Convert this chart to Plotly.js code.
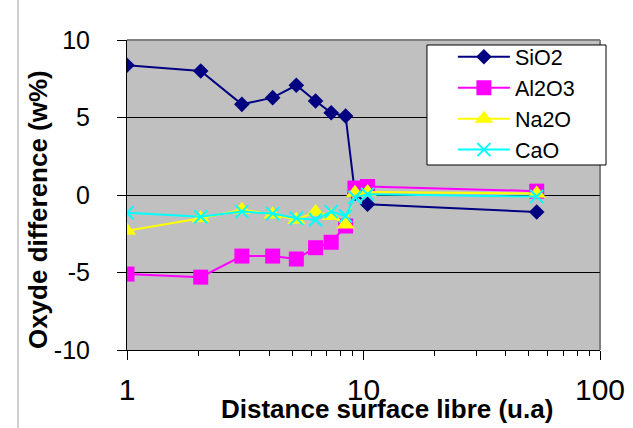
<!DOCTYPE html>
<html>
<head>
<meta charset="utf-8">
<script src="https://cdn.plot.ly/plotly-3.0.1.min.js"></script>
<style>
  html, body { margin: 0; padding: 0; background: #ffffff; }
  #chart { width: 633px; height: 428px; }
</style>
</head>
<body>
<div id="chart"></div>
<script>
// Distance values (log axis) shared by all series
const distance = [1, 2.05, 3.06, 4.13, 5.2, 6.27, 7.3, 8.4, 9.2, 10.4, 54];
const sio2  = [8.37, 8.0, 5.85, 6.28, 7.08, 6.06, 5.31, 5.1, 0.1, -0.6, -1.1];
const al2o3 = [-5.1, -5.3, -3.94, -3.94, -4.13, -3.4, -3.05, -2.0, 0.45, 0.55, 0.25];
const na2o  = [-2.3, -1.5, -0.95, -1.25, -1.6, -1.1, -1.35, -1.9, 0.15, 0.2, 0.1];
const cao   = [-1.15, -1.4, -1.07, -1.2, -1.5, -1.6, -1.07, -1.35, -0.15, 0.05, -0.1];
const seriesNames = ["SiO2", "Al2O3", "Na2O", "CaO"];
const xTickVals = [1, 10, 100];
const xTickText = ["1", "10", "100"];
const yTickVals = [-10, -5, 0, 5, 10];
const yTickText = ["-10", "-5", "0", "5", "10"];
const xTitle = "Distance surface libre (u.a)";
const yTitle = "Oxyde difference (w%)";

const FONT = "Liberation Sans, Arial, sans-serif";

const traces = [
  { x: distance, y: sio2, name: seriesNames[0], type: "scatter", mode: "lines+markers",
    line: { color: "#000080", width: 2 },
    marker: { symbol: "diamond", size: 12, color: "#000080" } },
  { x: distance, y: al2o3, name: seriesNames[1], type: "scatter", mode: "lines+markers",
    line: { color: "#FF00FF", width: 2 },
    marker: { symbol: "square", size: 15, color: "#FF00FF" } },
  { x: distance, y: na2o, name: seriesNames[2], type: "scatter", mode: "lines+markers",
    line: { color: "#FFFF00", width: 2 },
    marker: { symbol: "triangle-up", size: 16, color: "#FFFF00" } },
  { x: distance, y: cao, name: seriesNames[3], type: "scatter", mode: "lines+markers",
    line: { color: "#00FFFF", width: 2 },
    marker: { symbol: "x-thin", size: 13, color: "#00FFFF", line: { color: "#00FFFF", width: 2 } } }
];

const layout = {
  width: 633, height: 428,
  margin: { l: 127, r: 33, t: 40, b: 78, pad: 0 },
  paper_bgcolor: "#ffffff",
  plot_bgcolor: "#C0C0C0",
  font: { family: FONT, color: "#000000" },
  showlegend: true,
  legend: {
    x: 0.689, y: 1.012, xanchor: "left", yanchor: "top",
    bgcolor: "rgba(0,0,0,0)", borderwidth: 0,
    font: { family: FONT, size: 21.5, color: "#000000" },
    itemwidth: 52, tracegroupgap: 0
  },
  xaxis: {
    type: "log", range: [0, 2],
    tickvals: xTickVals, ticktext: xTickText,
    ticks: "outside", ticklen: 9, tickwidth: 1, tickcolor: "#000000",
    minor: { ticks: "outside", ticklen: 5, tickwidth: 1, tickcolor: "#000000", dtick: "D1", showgrid: false },
    showline: true, linecolor: "#000000", linewidth: 1,
    showgrid: false, zeroline: false,
    tickfont: { family: FONT, size: 30, color: "#000000" },
    ticklabelstandoff: 4
  },
  yaxis: {
    range: [-10, 10], tickvals: yTickVals, ticktext: yTickText,
    ticks: "outside", ticklen: 9, tickwidth: 1, tickcolor: "#000000",
    showline: true, linecolor: "#000000", linewidth: 1,
    showgrid: true, gridcolor: "#000000", gridwidth: 1, zeroline: false,
    tickfont: { family: FONT, size: 25, color: "#000000" },
    ticklabelstandoff: 22
  },
  shapes: [
    { type: "line", xref: "paper", yref: "paper", x0: 0, x1: 1, y0: 1, y1: 1,
      line: { color: "#808080", width: 2 }, layer: "between" },
    { type: "line", xref: "paper", yref: "paper", x0: 1, x1: 1, y0: 0, y1: 1,
      line: { color: "#808080", width: 2 }, layer: "between" },
    { type: "rect", xref: "paper", yref: "paper", x0: 0.6342, x1: 1.0127, y0: 0.5968, y1: 0.9839,
      fillcolor: "#ffffff", line: { color: "#000000", width: 1 }, layer: "above" },
    { type: "line", xref: "paper", yref: "paper", x0: -0.2304, x1: -0.2304, y0: -0.26, y1: 1.13,
      line: { color: "#A0A0A0", width: 1 }, layer: "above" }
  ],
  annotations: [
    { text: "<b>" + xTitle + "</b>", xref: "paper", yref: "paper",
      x: 0.55, y: -0.19, xanchor: "center", yanchor: "middle", showarrow: false,
      font: { family: FONT, size: 26, color: "#000000" } },
    { text: "<b>" + yTitle + "</b>", xref: "paper", yref: "paper",
      x: -0.188, y: 0.4516, xanchor: "center", yanchor: "middle", showarrow: false,
      textangle: -90,
      font: { family: FONT, size: 26, color: "#000000" } }
  ]
};

Plotly.newPlot("chart", traces, layout, { displayModeBar: false, staticPlot: true });
</script>
</body>
</html>
